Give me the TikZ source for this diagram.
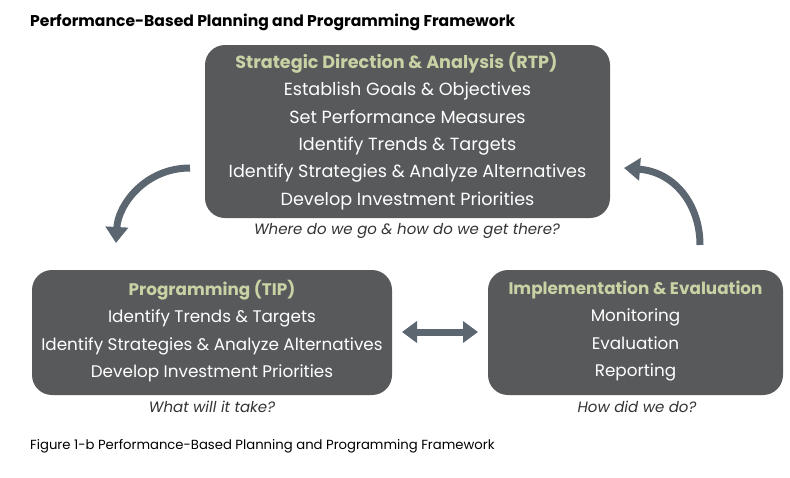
\documentclass[tikz,border=0pt]{standalone}
\usepackage{fontspec}
\setmainfont{Poppins}
\usetikzlibrary{arrows.meta}
\definecolor{boxfill}{HTML}{58595B}
\definecolor{headc}{HTML}{C9D2A4}
\definecolor{arrowc}{HTML}{5B6670}
\definecolor{subc}{HTML}{333333}
\begin{document}
\begin{tikzpicture}[x=1pt,y=-1pt,
  stagebox/.style={fill=boxfill, rounded corners=20pt, text=white, align=center, inner sep=0pt},
  subq/.style={font=\itshape\fontsize{15}{17}\selectfont, text=subc},
  bigarrow/.style={draw=arrowc, line width=7pt, -{Triangle[length=16pt,width=22pt]}},
  dblarrow/.style={draw=arrowc, line width=7pt, {Triangle[length=15pt,width=21pt]}-{Triangle[length=15pt,width=21pt]}}
]
\useasboundingbox (0,0) rectangle (790,477);
\node[anchor=west, inner sep=0pt, font=\bfseries\fontsize{15.6}{18}\selectfont] (title) at (30,22) {Performance-Based Planning and Programming Framework};
\node[stagebox, minimum width=405pt, minimum height=173pt] (rtpbox) at (407.5,131.5) {};
\node[text=white, align=center, font=\fontsize{17.6}{27.4}\selectfont] (rtp) at (407.5,131) {{\color{headc}\bfseries Strategic Direction \& Analysis (RTP)}\hspace*{22pt}\\Establish Goals \& Objectives\\Set Performance Measures\\Identify Trends \& Targets\\Identify Strategies \& Analyze Alternatives\hspace*{22pt}\\Develop Investment Priorities};
\node[subq] (q1) at (407,231) {Where do we go \& how do we get there?};
\node[stagebox, minimum width=360pt, minimum height=125pt] (tipbox) at (212,332.5) {};
\node[text=white, align=center, font=\fontsize{16.8}{27.3}\selectfont] (tip) at (212,331) {{\color{headc}\bfseries Programming (TIP)}\\Identify Trends \& Targets\\Identify Strategies \& Analyze Alternatives\\Develop Investment Priorities};
\node[subq] (q2) at (212,407) {What will it take?};
\node[stagebox, minimum width=295pt, minimum height=125pt] (impbox) at (635.5,332.5) {};
\node[text=white, align=center, font=\fontsize{16.8}{27.3}\selectfont] (imp) at (635.5,331) {{\color{headc}\bfseries Implementation \& Evaluation}\\Monitoring\\Evaluation\\Reporting};
\node[subq] (q3) at (637,407) {How did we do?};
\coordinate (a1s) at (190,168);
\coordinate (a1e) at (116,243);
\draw[bigarrow] (a1s) .. controls (145,168) and (118,205) .. (a1e);
\coordinate (a2s) at (700,245);
\coordinate (a2e) at (624,168);
\draw[bigarrow] (a2s) .. controls (700,205) and (675,172) .. (a2e);
\coordinate (d1) at (402,332);
\coordinate (d2) at (478,332);
\draw[dblarrow] (d1) -- (d2);
\node[anchor=west, inner sep=0pt, font=\fontsize{13.2}{15}\selectfont] (caption) at (30,446) {Figure 1-b Performance-Based Planning and Programming Framework};
\end{tikzpicture}
\end{document}
